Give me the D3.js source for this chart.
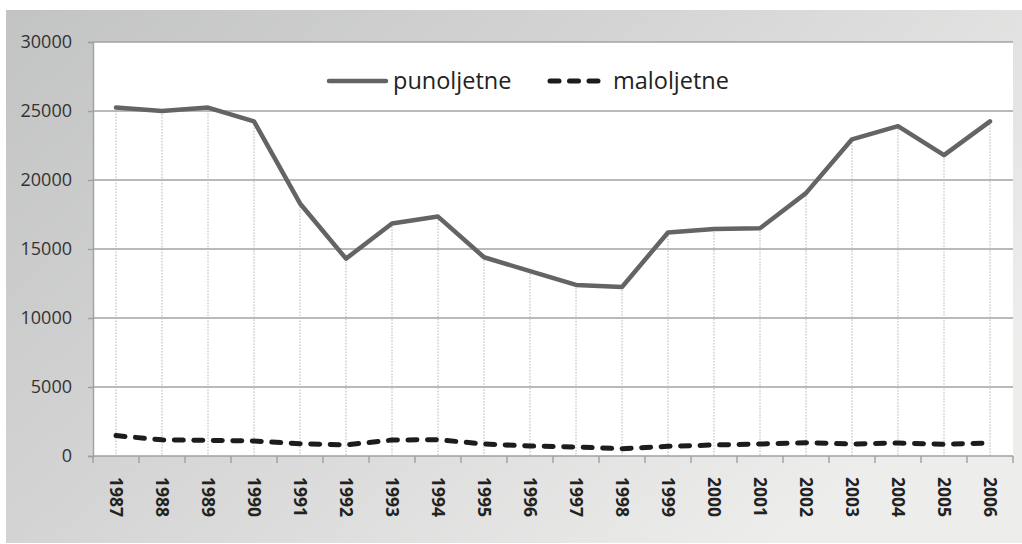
<!DOCTYPE html>
<html>
<head>
<meta charset="utf-8">
<script src="https://cdn.jsdelivr.net/npm/d3@7/dist/d3.min.js"></script>
<style>
  html, body { margin: 0; padding: 0; background: #ffffff; }
  svg { display: block; }
  text { font-family: "Open Sans", "DejaVu Sans", sans-serif; }
</style>
</head>
<body>
<svg id="chart" width="1022" height="544"></svg>
<script>
// Years on the category axis
const years = ["1987","1988","1989","1990","1991","1992","1993","1994","1995","1996",
               "1997","1998","1999","2000","2001","2002","2003","2004","2005","2006"];

// Adult convictions per year
const punoljetne = [25250, 25000, 25250, 24250, 18300, 14300, 16850, 17350, 14400, 13400,
                    12400, 12250, 16200, 16450, 16500, 19050, 22950, 23900, 21800, 24250];

// Juvenile convictions per year
const maloljetne = [1480, 1170, 1130, 1090, 890, 800, 1160, 1180, 870, 725,
                    650, 530, 700, 800, 870, 960, 870, 940, 850, 940];

// Value axis ticks
const yTicks = [0, 5000, 10000, 15000, 20000, 25000, 30000];

const seriesNames = ["punoljetne", "maloljetne"];

const svg = d3.select("#chart");
const W = 1022, H = 544;
const plot = { left: 93, right: 1013, top: 42, bottom: 456 };

// Background panel with a soft grey gradient
const defs = svg.append("defs");
const grad = defs.append("linearGradient")
  .attr("id", "bg").attr("x1", "0%").attr("y1", "0%").attr("x2", "100%").attr("y2", "60%");
grad.append("stop").attr("offset", "0%").attr("stop-color", "#c2c3c3");
grad.append("stop").attr("offset", "45%").attr("stop-color", "#d3d4d3");
grad.append("stop").attr("offset", "100%").attr("stop-color", "#ededec");

svg.append("rect").attr("x", 6).attr("y", 10).attr("width", W - 6).attr("height", 533)
  .attr("fill", "url(#bg)");

// Plot area
svg.append("rect")
  .attr("x", plot.left).attr("y", plot.top)
  .attr("width", plot.right - plot.left).attr("height", plot.bottom - plot.top)
  .attr("fill", "#ffffff");

const x = d3.scaleBand().domain(years).range([plot.left, plot.right]).paddingInner(0).paddingOuter(0);
const y = d3.scaleLinear().domain([0, 30000]).range([plot.bottom, plot.top]);
const cx = d => x(d) + x.bandwidth() / 2;

// Horizontal gridlines
svg.append("g").selectAll("line")
  .data(yTicks.filter(t => t > 0))
  .join("line")
  .attr("x1", plot.left).attr("x2", plot.right)
  .attr("y1", d => y(d)).attr("y2", d => y(d))
  .attr("stroke", "#a3a3a3").attr("stroke-width", 1.4);

// Drop lines from the upper series down to the category axis
svg.append("g").selectAll("line")
  .data(years)
  .join("line")
  .attr("x1", d => cx(d)).attr("x2", d => cx(d))
  .attr("y1", (d, i) => y(punoljetne[i])).attr("y2", y(0))
  .attr("stroke", "#b4b4b4").attr("stroke-width", 1)
  .attr("stroke-dasharray", "1.5,1.5");

// Y axis
const yAxis = d3.axisLeft(y).tickValues(yTicks).tickSize(5).tickPadding(16).tickFormat(d3.format("d"));
const gy = svg.append("g").attr("transform", `translate(${plot.left},0)`).call(yAxis);
gy.select(".domain").attr("stroke", "#a0a0a0").attr("stroke-width", 1.4);
gy.selectAll(".tick line").attr("stroke", "#a0a0a0").attr("stroke-width", 1.4);
gy.selectAll(".tick text")
  .attr("font-size", 18).attr("fill", "#333333")
  .style("font-family", "'Open Sans', sans-serif");

// X axis: ticks on category boundaries
const gx = svg.append("g").attr("transform", `translate(0,${plot.bottom})`);
gx.append("line").attr("x1", plot.left).attr("x2", plot.right)
  .attr("stroke", "#a0a0a0").attr("stroke-width", 1.4);
const bounds = years.map(d => x(d)).concat([plot.right]);
gx.selectAll("line.tk").data(bounds).join("line").attr("class", "tk")
  .attr("x1", d => d).attr("x2", d => d).attr("y1", 0).attr("y2", 7)
  .attr("stroke", "#a0a0a0").attr("stroke-width", 1.4);
gx.selectAll("text").data(years).join("text")
  .attr("transform", d => `translate(${cx(d)},21) rotate(90)`)
  .attr("dy", "0.35em")
  .attr("text-anchor", "start")
  .attr("font-size", 17.5).attr("font-weight", "bold").attr("fill", "#222222")
  .text(d => d);

// Lines
const line = d3.line().x((d, i) => cx(years[i])).y(d => y(d));

svg.append("path").datum(punoljetne).attr("d", line)
  .attr("fill", "none").attr("stroke", "#646464").attr("stroke-width", 4.5)
  .attr("stroke-linejoin", "round").attr("stroke-linecap", "round");

svg.append("path").datum(maloljetne).attr("d", line)
  .attr("fill", "none").attr("stroke", "#1c1c1c").attr("stroke-width", 5)
  .attr("stroke-dasharray", "9,10.5").attr("stroke-linecap", "round")
  .attr("stroke-linejoin", "round");

// Legend
const lg = svg.append("g");
lg.append("line").attr("x1", 329).attr("x2", 386).attr("y1", 81).attr("y2", 81)
  .attr("stroke", "#646464").attr("stroke-width", 4.5).attr("stroke-linecap", "round");
lg.append("text").attr("x", 393).attr("y", 89).attr("font-size", 23.5).attr("fill", "#222222")
  .text(seriesNames[0]);
lg.append("line").attr("x1", 550).attr("x2", 599).attr("y1", 81).attr("y2", 81)
  .attr("stroke", "#1c1c1c").attr("stroke-width", 5)
  .attr("stroke-dasharray", "9,10.5").attr("stroke-linecap", "round");
lg.append("text").attr("x", 613).attr("y", 89).attr("font-size", 23.5).attr("fill", "#222222")
  .text(seriesNames[1]);
</script>
</body>
</html>
